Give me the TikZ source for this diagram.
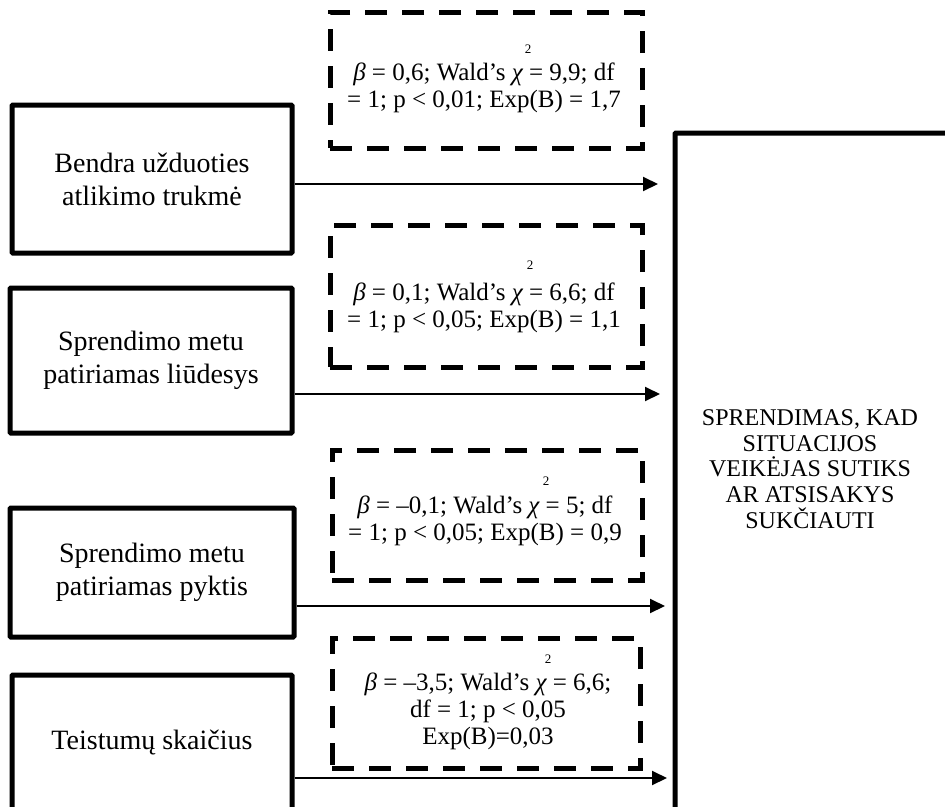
\documentclass[tikz,border=0pt]{standalone}
\usepackage{fontspec}
\setmainfont{Liberation Serif}
\usetikzlibrary{arrows.meta}
\tikzset{
  box/.style={draw, line width=5pt, rounded corners=1pt, align=center, inner sep=0pt,
    font=\fontsize{28}{33}\selectfont},
  dbox/.style={draw, line width=5pt, dash pattern=on 22pt off 15pt, inner sep=0pt},
  stat/.style={align=center, inner sep=0pt, font=\fontsize{25}{27}\selectfont},
  sq/.style={inner sep=0pt, font=\fontsize{13}{13}\selectfont},
  conn/.style={line width=2pt, -{Triangle[length=15pt,width=14pt]}},
  res/.style={align=center, inner sep=0pt, font=\fontsize{24}{25.7}\selectfont}
}
\begin{document}
\begin{tikzpicture}[x=1pt,y=-1pt]
\useasboundingbox (0,0) rectangle (945,806);
\clip (0,0) rectangle (945,806);
% left boxes
\node[box, minimum width=280pt, minimum height=148pt] (b1) at (152,179) {Bendra užduoties\\atlikimo trukmė};
\node[box, minimum width=282pt, minimum height=145pt] (b2) at (151,360.5) {Sprendimo metu\\patiriamas liūdesys};
\node[box, minimum width=284pt, minimum height=129pt] (b3) at (152,572.5) {Sprendimo metu\\patiriamas pyktis};
\node[box, minimum width=280pt, minimum height=135pt] (b4) at (152,742.5) {Teistumų skaičius};
% decision box
\node[draw, line width=5pt, rounded corners=1pt, minimum width=400pt, minimum height=800pt, inner sep=0pt] (dec) at (875,533) {};
\node[res] (rt) at (810,469) {SPRENDIMAS, KAD\\SITUACIJOS\\VEIKĖJAS SUTIKS\\AR ATSISAKYS\\SUKČIAUTI};
% dashed boxes
\node[dbox, minimum width=312pt, minimum height=136pt] (d1) at (486,80) {};
\node[dbox, minimum width=312pt, minimum height=142pt] (d2) at (486,296) {};
\node[dbox, minimum width=310pt, minimum height=130pt] (d3) at (487,515) {};
\node[dbox, minimum width=308pt, minimum height=130pt] (d4) at (486,703) {};
% statistics
\node[stat] (s1) at (484,88) {{\itshape β} = 0,6; Wald’s {\itshape χ} = 9,9; df\\= 1; p < 0,01; Exp(B) = 1,7};
\node[stat] (s2) at (484,307.5) {{\itshape β} = 0,1; Wald’s {\itshape χ} = 6,6; df\\= 1; p < 0,05; Exp(B) = 1,1};
\node[stat] (s3) at (485,521) {{\itshape β} = –0,1; Wald’s {\itshape χ} = 5; df\\= 1; p < 0,05; Exp(B) = 0,9};
\node[stat] (s4) at (488,711) {{\itshape β} = –3,5; Wald’s {\itshape χ} = 6,6;\\df = 1; p < 0,05\\Exp(B)=0,03};
\node[sq] (q1) at (528,49) {2};
\node[sq] (q2) at (530,265) {2};
\node[sq] (q3) at (546,481) {2};
\node[sq] (q4) at (548,659) {2};
% connectors
\coordinate (t1) at (658,184);
\coordinate (t2) at (660,394);
\coordinate (t3) at (665,606);
\coordinate (t4) at (667,778);
\draw[conn] (b1.east |- t1) -- (t1);
\draw[conn] (b2.east |- t2) -- (t2);
\draw[conn] (b3.east |- t3) -- (t3);
\draw[conn] (b4.east |- t4) -- (t4);
\end{tikzpicture}
\end{document}
